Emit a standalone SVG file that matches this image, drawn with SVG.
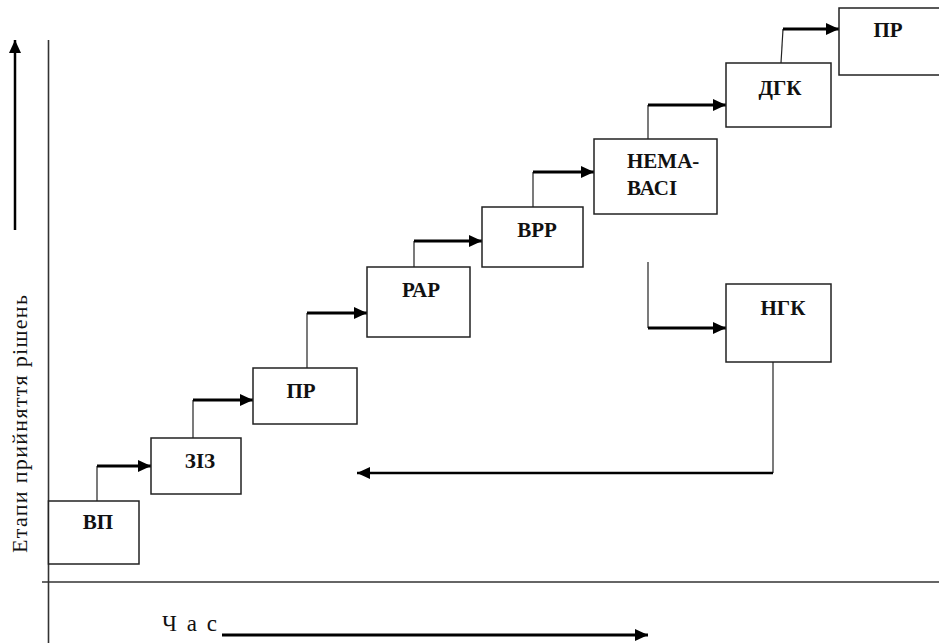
<svg xmlns="http://www.w3.org/2000/svg" width="939" height="643" viewBox="0 0 939 643">
<defs>
<marker id="ah" markerUnits="userSpaceOnUse" markerWidth="14" markerHeight="12" refX="13" refY="6" orient="auto">
<path d="M0,0 L13,6 L0,12 Z" fill="#000"/>
</marker>
</defs>
<rect width="939" height="643" fill="#fff"/>
<g id="axes">
<line stroke="#333" stroke-width="1.6" x1="48.5" y1="40" x2="48.5" y2="643"/>
<line stroke="#333" stroke-width="1.6" x1="42" y1="582" x2="939" y2="582"/>
<line stroke="#000" stroke-width="2.5" x1="15" y1="230" x2="15" y2="40" marker-end="url(#ah)"/>
<text font-family="Liberation Serif" font-size="22" fill="#111" transform="translate(27,553) rotate(-90)" textLength="258" lengthAdjust="spacing">Етапи  прийняття  рішень</text>
<text font-family="Liberation Serif" font-size="23" fill="#111" x="162" y="631" textLength="55" lengthAdjust="spacing">Ч а с</text>
<line stroke="#000" stroke-width="3" x1="222" y1="635" x2="648" y2="635" marker-end="url(#ah)"/>
</g>
<g id="connectors" fill="none">
<g stroke="#222" stroke-width="1.2">
<line x1="97" y1="501" x2="97" y2="466"/>
<line x1="193" y1="438" x2="193" y2="400"/>
<line x1="307" y1="368" x2="307" y2="313"/>
<line x1="414" y1="267" x2="414" y2="241"/>
<line x1="533" y1="207" x2="533" y2="172"/>
<line x1="648" y1="139" x2="648" y2="105"/>
<line x1="781" y1="63" x2="783" y2="29"/>
<line x1="648" y1="262" x2="648" y2="328"/>
<line x1="773" y1="362" x2="773" y2="473"/>
</g>
<g stroke="#000" stroke-width="3">
<line x1="97" y1="466" x2="151" y2="466" marker-end="url(#ah)"/>
<line x1="193" y1="400" x2="253" y2="400" marker-end="url(#ah)"/>
<line x1="307" y1="313" x2="367" y2="313" marker-end="url(#ah)"/>
<line x1="414" y1="241" x2="482" y2="241" marker-end="url(#ah)"/>
<line x1="533" y1="172" x2="594" y2="172" marker-end="url(#ah)"/>
<line x1="648" y1="105" x2="726" y2="105" marker-end="url(#ah)"/>
<line x1="783" y1="29" x2="839" y2="29" marker-end="url(#ah)"/>
<line x1="648" y1="328" x2="726" y2="328" marker-end="url(#ah)"/>
<line x1="773" y1="473" x2="357" y2="473" stroke-width="2.5" marker-end="url(#ah)"/>
</g>
</g>
<g id="nodes" font-family="Liberation Serif" font-weight="bold" font-size="21">
<g id="vp"><rect fill="#fff" stroke="#222" stroke-width="1.5" x="48.5" y="501" width="90.5" height="63"/><text fill="#111" x="98" y="529" text-anchor="middle">ВП</text></g>
<g id="ziz"><rect fill="#fff" stroke="#222" stroke-width="1.5" x="151" y="438" width="90" height="56"/><text fill="#111" x="200" y="468" text-anchor="middle">ЗІЗ</text></g>
<g id="pr1"><rect fill="#fff" stroke="#222" stroke-width="1.5" x="253" y="368" width="104" height="56"/><text fill="#111" x="301" y="398" text-anchor="middle">ПР</text></g>
<g id="rar"><rect fill="#fff" stroke="#222" stroke-width="1.5" x="367" y="267" width="103" height="70"/><text fill="#111" x="421" y="297" text-anchor="middle">РАР</text></g>
<g id="vrr"><rect fill="#fff" stroke="#222" stroke-width="1.5" x="482" y="207" width="101" height="60"/><text fill="#111" x="537" y="237" text-anchor="middle">ВРР</text></g>
<g id="nema"><rect fill="#fff" stroke="#222" stroke-width="1.5" x="594" y="139" width="123" height="75"/><text fill="#111" x="627" y="168">НЕМА-</text><text fill="#111" x="627" y="195">ВАСІ</text></g>
<g id="dgk"><rect fill="#fff" stroke="#222" stroke-width="1.5" x="726" y="63" width="105" height="64"/><text fill="#111" x="780" y="95" text-anchor="middle">ДГК</text></g>
<g id="pr2"><rect fill="#fff" stroke="#222" stroke-width="1.5" x="839" y="8" width="105" height="67"/><text fill="#111" x="888" y="37" text-anchor="middle">ПР</text></g>
<g id="ngk"><rect fill="#fff" stroke="#222" stroke-width="1.5" x="726" y="284" width="105" height="78"/><text fill="#111" x="783" y="315" text-anchor="middle">НГК</text></g>
</g>
</svg>
